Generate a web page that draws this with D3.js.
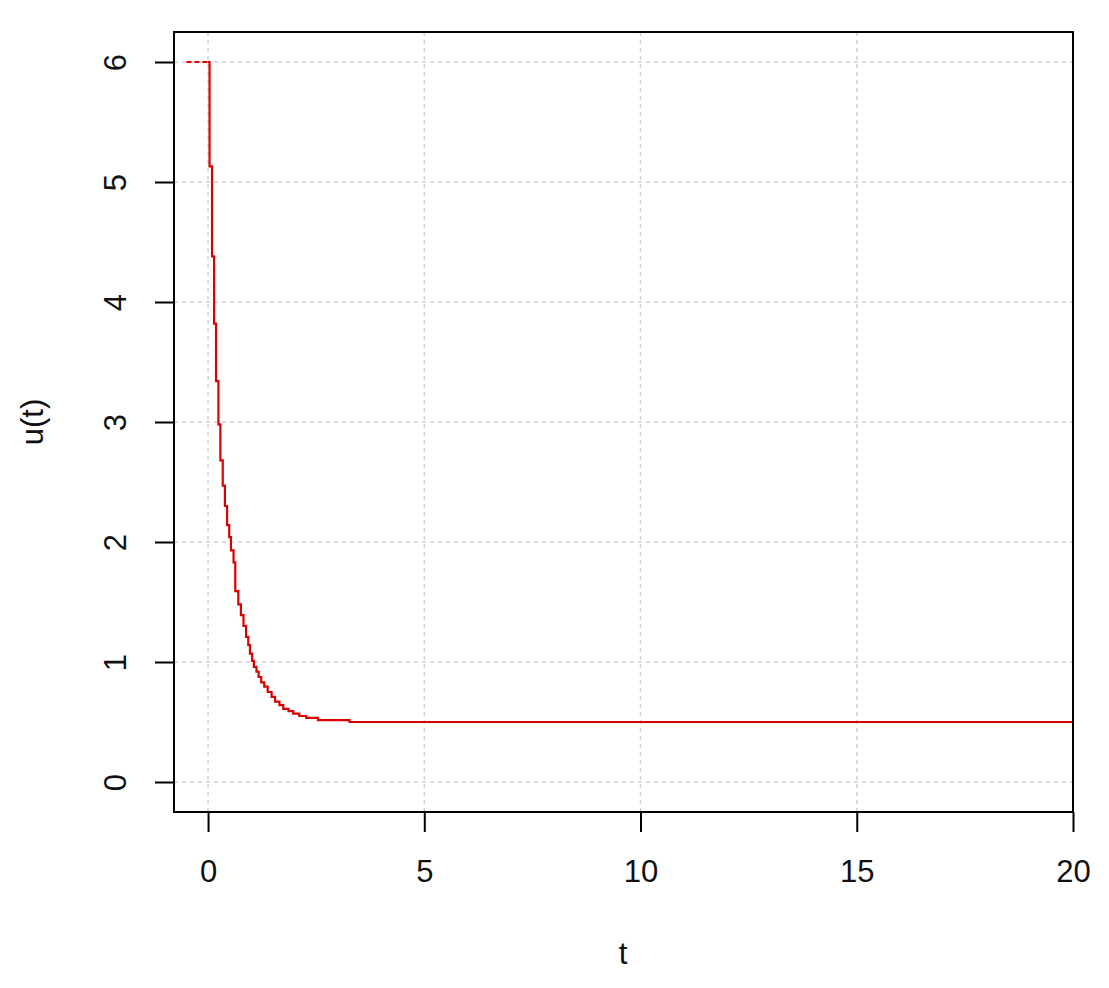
<!DOCTYPE html>
<html>
<head>
<meta charset="utf-8">
<script src="https://cdn.jsdelivr.net/npm/d3@7"></script>
<style>
  body { margin: 0; background: #fff; }
  svg { display: block; font-family: Arial, "Liberation Sans", sans-serif; }
</style>
</head>
<body>
<svg id="chart" width="1109" height="988"></svg>
<script>
// step function: u holds from t[i] until t[i+1]
const stepT = [0, 0.035, 0.093, 0.14, 0.185, 0.24, 0.285, 0.34, 0.39, 0.44, 0.49,
  0.53, 0.59, 0.63, 0.70, 0.76, 0.82, 0.88, 0.93, 0.97, 1.02, 1.06, 1.12, 1.17,
  1.23, 1.30, 1.38, 1.47, 1.55, 1.65, 1.74, 1.86, 1.97, 2.11, 2.27, 2.54, 3.27, 20];
const stepU = [6, 5.13, 4.38, 3.82, 3.34, 2.98, 2.68, 2.47, 2.30, 2.14, 2.04,
  1.93, 1.83, 1.59, 1.48, 1.39, 1.30, 1.21, 1.14, 1.07, 1.01, 0.96, 0.92, 0.875,
  0.83, 0.795, 0.75, 0.71, 0.67, 0.64, 0.61, 0.59, 0.57, 0.55, 0.535, 0.515, 0.50, 0.50];

// dashed lead-in before t = 0
const leadT = [-0.5, 0];
const leadU = [6, 6];

const xTicks = [0, 5, 10, 15, 20];
const yTicks = [0, 1, 2, 3, 4, 5, 6];

const chart = d3.select("#chart");

const xScale = d3.scaleLinear().domain([-0.787, 20]).range([174, 1073]);
const yScale = d3.scaleLinear().domain([-0.25, 6.25]).range([812, 32]);

// grid
chart.append("g")
  .selectAll("line")
  .data(xTicks)
  .enter()
  .append("line")
  .attr("x1", (d) => xScale(d))
  .attr("x2", (d) => xScale(d))
  .attr("y1", 32)
  .attr("y2", 812)
  .attr("stroke", "#d3d3d3")
  .attr("stroke-width", 1.5)
  .attr("stroke-dasharray", "4,4");

chart.append("g")
  .selectAll("line")
  .data(yTicks)
  .enter()
  .append("line")
  .attr("x1", 174)
  .attr("x2", 1073)
  .attr("y1", (d) => yScale(d))
  .attr("y2", (d) => yScale(d))
  .attr("stroke", "#d3d3d3")
  .attr("stroke-width", 1.5)
  .attr("stroke-dasharray", "4,4");

// curve
const stepLine = d3
  .line()
  .x((d) => xScale(d))
  .curve(d3.curveStepAfter);

chart
  .append("path")
  .attr("d", stepLine.y((d, i) => yScale(leadU[i]))(leadT))
  .attr("fill", "none")
  .attr("stroke", "#dd0000")
  .attr("stroke-width", 2.2)
  .attr("stroke-dasharray", "5,3");

chart
  .append("path")
  .attr("d", stepLine.y((d, i) => yScale(stepU[i]))(stepT))
  .attr("fill", "none")
  .attr("stroke", "#dd0000")
  .attr("stroke-width", 2.2);

// box
chart
  .append("rect")
  .attr("x", 174)
  .attr("y", 32)
  .attr("width", 899)
  .attr("height", 780)
  .attr("fill", "none")
  .attr("stroke", "black")
  .attr("stroke-width", 2);

// axes
const xAxis = d3.axisBottom(xScale).tickValues(xTicks).tickFormat(d3.format("d")).tickSize(20).tickSizeOuter(0);
const yAxis = d3.axisLeft(yScale).tickValues(yTicks).tickFormat(d3.format("d")).tickSize(19).tickSizeOuter(0);

const gx = chart.append("g").attr("transform", "translate(0, 812)").call(xAxis);
gx.select(".domain").remove();
gx.selectAll("line").attr("stroke", "black").attr("stroke-width", 2);
gx.selectAll("text")
  .attr("y", 70)
  .attr("dy", 0)
  .attr("fill", "#111")
  .style("font-size", "31px")
  .style("font-family", "Arial, 'Liberation Sans', sans-serif");

const gy = chart.append("g").attr("transform", "translate(174, 0)").call(yAxis);
gy.select(".domain").remove();
gy.selectAll("line").attr("stroke", "black").attr("stroke-width", 2);
gy.selectAll("text")
  .attr("x", 0)
  .attr("dy", 0)
  .attr("text-anchor", "middle")
  .attr("transform", "translate(-48, 0) rotate(-90)")
  .attr("fill", "#111")
  .style("font-size", "31px")
  .style("font-family", "Arial, 'Liberation Sans', sans-serif");

// titles
chart
  .append("text")
  .attr("x", 623)
  .attr("y", 964)
  .attr("text-anchor", "middle")
  .attr("fill", "#111")
  .style("font-size", "31px")
  .text("t");

chart
  .append("text")
  .attr("x", 0)
  .attr("y", 0)
  .attr("transform", "translate(43, 422) rotate(-90)")
  .attr("text-anchor", "middle")
  .attr("fill", "#111")
  .style("font-size", "31px")
  .text("u(t)");
</script>
</body>
</html>
